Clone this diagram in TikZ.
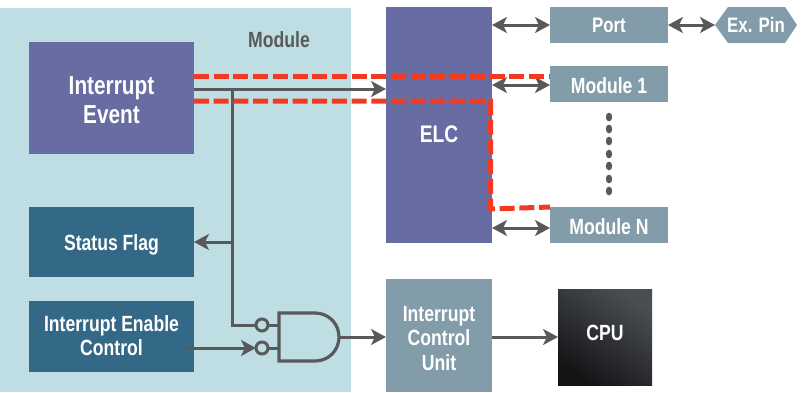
\documentclass[tikz,border=0pt]{standalone}
\usepackage{fontspec}
\setmainfont{Liberation Sans}[FakeStretch=0.8,BoldFont={* Bold}]
\usetikzlibrary{arrows.meta,calc}
\definecolor{bgm}{HTML}{BFDEE3}
\definecolor{pur}{HTML}{676CA3}
\definecolor{teal}{HTML}{336987}
\definecolor{slate}{HTML}{839CA9}
\definecolor{wire}{HTML}{58595B}
\definecolor{redd}{HTML}{F23A22}
\definecolor{cpuA}{HTML}{4A4E53}
\definecolor{cpuB}{HTML}{141416}
\newcommand\lft[2]{\raisebox{-#1pt}[0pt][0pt]{#2}}
\tikzset{
 x=1pt,y=-1pt,
 box/.style={anchor=north west,inner sep=0pt,outer sep=0pt,align=center,text=white,font=\bfseries\fontsize{22}{24}\selectfont},
 wirel/.style={draw=wire,line width=3pt},
 tip/.style={-{Stealth[length=15pt,width=16pt,inset=4pt]}},
 dtip/.style={{Stealth[length=15pt,width=16pt,inset=4pt]}-{Stealth[length=15pt,width=16pt,inset=4pt]}},
 redline/.style={draw=redd,line width=5pt,dash pattern=on 15pt off 4.7pt},
 bub/.style={circle,draw=wire,line width=3pt,minimum size=12pt,inner sep=0pt,outer sep=0pt},
}
\begin{document}
\begin{tikzpicture}
\useasboundingbox (0,0) rectangle (804,392);
\node[box,fill=bgm,minimum width=351pt,minimum height=384pt] (mod) at (0,8) {};
\node[text=wire,font=\bfseries\fontsize{22}{24}\selectfont,inner sep=0pt] (modl) at (279,39.5) {\lft{7.5}{Module}};
\node[box,fill=pur,minimum width=165pt,minimum height=112pt,font=\bfseries\fontsize{26}{29}\selectfont] (ev) at (29,42) {\lft{11}{Interrupt}\\\lft{11}{Event}};
\node[box,fill=teal,minimum width=165pt,minimum height=70pt] (st) at (29,207) {\lft{8.5}{Status Flag}};
\node[box,fill=teal,minimum width=165pt,minimum height=71pt] (en) at (29,301) {\lft{6.5}{Interrupt Enable}\\\lft{6.5}{Control}};
\node[box,fill=pur,minimum width=106pt,minimum height=236pt,font=\bfseries\fontsize{24}{28}\selectfont] (elc) at (386,7) {\lft{17}{ELC}};
\node[box,fill=slate,minimum width=118pt,minimum height=36pt,font=\bfseries\fontsize{21}{24}\selectfont] (port) at (550,7) {\lft{7.5}{Port}};
\node[box,fill=slate,minimum width=118pt,minimum height=36pt] (m1) at (550,66) {\lft{9}{Module 1}};
\node[box,fill=slate,minimum width=118pt,minimum height=36pt] (mn) at (550,207) {\lft{9}{Module N}};
\node[box,fill=slate,minimum width=106pt,minimum height=113pt,font=\bfseries\fontsize{22}{24.5}\selectfont] (icu) at (386,279) {\lft{10}{Interrupt}\\\lft{10}{Control}\\\lft{10}{Unit}};
\node[box,minimum width=94pt,minimum height=96pt,top color=cpuA,bottom color=cpuB,shading angle=-35,font=\bfseries\fontsize{22}{24}\selectfont] at (558,289) (cpu) {\lft{3.5}{CPU}};
\fill[slate] (715,25) -- (728,7) -- (785,7) -- (797,25) -- (785,43) -- (728,43) -- cycle;
\node[text=white,font=\bfseries\fontsize{21}{23}\selectfont,inner sep=0pt] (pin) at (756,25) {\lft{7.5}{Ex. Pin}};
% gate
\draw[wire,line width=3.2pt,line join=miter] (279,313) -- (315,313) .. controls (329,313) and (339,324) .. (339,337) .. controls (339,350) and (329,361) .. (315,361) -- (279,361) -- cycle;
\node[bub] (b1) at (262,325) {};
\node[bub] (b2) at (262,348) {};
\draw[wirel] (b1.east) -- (279,325);
\draw[wirel] (b2.east) -- (279,348);
% wires
\draw[wirel,tip] ([yshift=9]ev.east) -- (elc.west |- 0,89);
\draw[wirel,line join=miter] (232,89) -- (232,325) -- (b1.west);
\draw[wirel,tip] (232,242) -- (st.east |- 0,242);
\draw[wirel,tip] (186,348) -- (b2.west);
\draw[wirel,tip] (339,337) -- (icu.west |- 0,337);
\draw[wirel,tip] (icu.east |- 0,337) -- (cpu.west |- 0,337);
\draw[wirel,dtip] (elc.east |- port.west) -- (port.west);
\draw[wirel,dtip] (elc.east |- 0,85) -- (m1.west |- 0,85);
\draw[wirel,dtip] (elc.east |- 0,228) -- (mn.west |- 0,228);
\draw[wirel,dtip] (668,25) -- (715,25);
\draw[redline] ([yshift=22]ev.east) -- (m1.west |- 0,76);
\draw[redline] ([yshift=-3]ev.east) -- (490.5,101) -- (490.5,209) -- (mn.north west);
\foreach \y in {117,129,141,154,166,179,191}
  \fill[wire] (609,\y) ellipse[x radius=3.2,y radius=4.4];
\end{tikzpicture}
\end{document}
